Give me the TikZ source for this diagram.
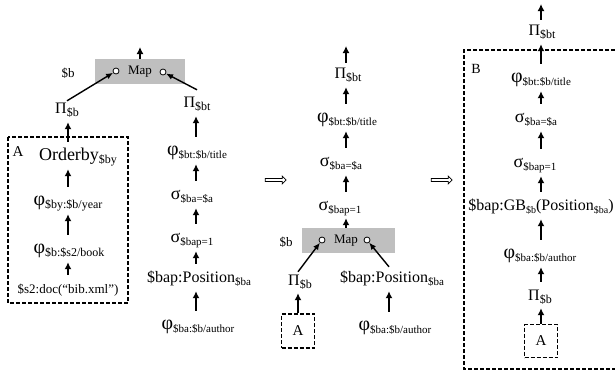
\documentclass[tikz,border=0pt]{standalone}
\usepackage{fontspec}
\setmainfont{Liberation Serif}
\usetikzlibrary{arrows.meta,shapes.arrows}

\newcommand{\idx}[2][12]{\raisebox{-3pt}{\fontsize{#1}{#1}\selectfont #2}}
\newcommand{\gk}[2][18]{{\fontsize{#1}{#1}\selectfont #2}}

\tikzset{
  op/.style={inner sep=1pt, text height=10pt, text depth=4pt, font=\fontsize{16}{18}\selectfont},
  small/.style={inner sep=1pt, font=\fontsize{13}{15}\selectfont},
  up/.style={-{Latex[length=7pt,width=7pt]}, line width=1.7pt, shorten <=7pt, shorten >=4pt},
  feed/.style={-{Latex[length=7pt,width=6pt]}, line width=1.4pt},
  frame/.style={line width=1.1pt, dash pattern=on 4pt off 2pt},
  mapbox/.style={fill=gray!50, inner sep=0pt},
  port/.style={circle, draw, fill=white, line width=0.8pt, inner sep=0pt, minimum size=6pt},
  fatarrow/.style={single arrow, draw, line width=0.7pt, minimum height=21pt, minimum width=8pt, inner sep=0.8pt, single arrow head extend=2pt},
}

\begin{document}
\begin{tikzpicture}[x=1pt, y=-1pt]
\useasboundingbox (0,0) rectangle (615,378);

% columns of the up arrows
\coordinate (ca) at (68,0);
\coordinate (cb) at (196,0);
\coordinate (cm) at (346,0);
\coordinate (cp) at (389,0);
\coordinate (cr) at (541,0);

%%% left plan
% map
\node[mapbox, minimum width=90pt, minimum height=25pt] (boxL) at (140,71.5) {};
\node[small] (mapL) at (140,72) {Map};
\node[small] (varL) at (68,73) {\$b};
\node[port] (inL1) at (116,71) {};
\node[port] (inL2) at (163,72) {};
\coordinate (topL) at (140,47);
\draw[up, shorten <=0pt, shorten >=0pt] (boxL.north) -- (topL);

\node[op] (piB) at (67,110) {Π\idx{\$b}};
\node[op] (piBt) at (197,104) {Π\idx{\$bt}};
\draw[feed] ([yshift=1pt]piB.north) -- (inL1);
\draw[feed] ([yshift=6pt]piBt.north) -- (inL2);

% A
\draw[frame] (8,137) rectangle (128,303);
\node[op, font=\fontsize{15}{17}\selectfont] (labA) at (18,153) {A};
\node[op, font=\fontsize{18}{20}\selectfont] (ordBy) at (78,157) {Orderby\idx{\$by}};
\node[op] (phiBy) at (68,202) {\gk[20]{φ}\idx{\$by:\$b/year}};
\node[op] (phiB) at (69,250) {\gk[20]{φ}\idx{\$b:\$s2/book}};
\node[op, font=\fontsize{13}{15}\selectfont] (docS) at (68,290) {\$s2:doc(“bib.xml”)};
\draw[up] (ordBy.north -| ca) -- (piB.south -| ca);
\draw[up] (phiBy.north -| ca) -- (ordBy.south -| ca);
\draw[up] (phiB.north -| ca) -- (phiBy.south -| ca);
\draw[up] (docS.north -| ca) -- (phiB.south -| ca);

% title branch
\node[op] (phiBt) at (197,152) {\gk[20]{φ}\idx[11]{\$bt:\$b/title}};
\node[op] (sigA) at (192,196) {\gk{σ}\idx[11]{\$ba=\$a}};
\node[op] (sigP) at (192,239) {\gk{σ}\idx[11]{\$bap=1}};
\node[op] (posL) at (199,279) {\$bap:Position\idx[11]{\$ba}};
\node[op] (phiBa) at (198,326) {\gk[20]{φ}\idx[11]{\$ba:\$b/author}};
\draw[up] (phiBt.north -| cb) -- (piBt.south -| cb);
\draw[up] (sigA.north -| cb) -- (phiBt.south -| cb);
\draw[up] (sigP.north -| cb) -- (sigA.south -| cb);
\draw[up] (posL.north -| cb) -- (sigP.south -| cb);
\draw[up] (phiBa.north -| cb) -- (posL.south -| cb);

\node[fatarrow] (goM) at (275,180) {};

%%% middle plan
\coordinate (topM) at (346,46);
\node[op] (piBt2) at (348,75) {Π\idx{\$bt}};
\node[op] (phiBt2) at (347,119) {\gk[20]{φ}\idx[11]{\$bt:\$b/title}};
\node[op] (sigA2) at (341,163) {\gk{σ}\idx[11]{\$ba=\$a}};
\node[op] (sigP2) at (340,207) {\gk{σ}\idx[11]{\$bap=1}};
\draw[up, shorten <=4pt, shorten >=0pt] (piBt2.north -| cm) -- (topM);
\draw[up] (phiBt2.north -| cm) -- (piBt2.south -| cm);
\draw[up] (sigA2.north -| cm) -- (phiBt2.south -| cm);
\draw[up] (sigP2.north -| cm) -- (sigA2.south -| cm);

% map
\node[mapbox, minimum width=93pt, minimum height=25pt] (boxM) at (348.5,240.5) {};
\node[small] (mapM) at (346,241) {Map};
\node[small] (varM) at (286,242) {\$b};
\node[port] (inM1) at (322,240) {};
\node[port] (inM2) at (367,240) {};
\draw[up, shorten <=0pt, shorten >=3pt] (boxM.north -| cm) -- (sigP2.south -| cm);

\node[op] (piB2) at (300,282) {Π\idx{\$b}};
\node[op] (posM) at (392,279) {\$bap:Position\idx[11]{\$ba}};
\node[op] (phiBa2) at (395,327) {\gk[20]{φ}\idx[11]{\$ba:\$b/author}};
\draw[feed] ([yshift=2pt]piB2.north -| 298,0) -- (inM1);
\draw[feed] ([yshift=4pt]posM.north -| cp) -- (inM2);
\node[frame, draw, inner sep=0pt, minimum width=33pt, minimum height=34pt, font=\fontsize{15}{17}\selectfont] (boxA2) at (298,331) {A};
\draw[up, shorten <=0pt, shorten >=3pt] (boxA2.north) -- (piB2.south -| boxA2);
\draw[up] (phiBa2.north -| cp) -- (posM.south -| cp);

\node[fatarrow] (goR) at (441,180) {};

%%% right plan
\coordinate (topR) at (541,4);
\node[op] (piBt3) at (542,32) {Π\idx{\$bt}};
\draw[frame] (615,50) -| (464,369) -- (615,369);
\node[op, font=\fontsize{14}{16}\selectfont] (labB) at (476,70) {B};
\node[op] (phiBt3) at (541,79) {\gk[20]{φ}\idx[11]{\$bt:\$b/title}};
\node[op] (sigA3) at (536,119) {\gk{σ}\idx[11]{\$ba=\$a}};
\node[op] (sigP3) at (535,164) {\gk{σ}\idx[11]{\$bap=1}};
\node[op] (gb) at (541,207) {\$bap:GB\idx[10]{\$b}(Position\idx[10]{\$ba})};
\node[op] (phiBa3) at (540,255) {\gk[20]{φ}\idx[11]{\$ba:\$b/author}};
\node[op] (piB3) at (540,297) {Π\idx{\$b}};
\node[frame, draw, inner sep=0pt, minimum width=33pt, minimum height=33pt, font=\fontsize{15}{17}\selectfont] (boxA3) at (541,341) {A};
\draw[up, shorten <=4pt, shorten >=0pt] (piBt3.north -| cr) -- (topR);
\draw[up] (phiBt3.north -| cr) -- (piBt3.south -| cr);
\draw[up] (sigA3.north -| cr) -- (phiBt3.south -| cr);
\draw[up] (sigP3.north -| cr) -- (sigA3.south -| cr);
\draw[up] (gb.north -| cr) -- (sigP3.south -| cr);
\draw[up] (phiBa3.north -| cr) -- (gb.south -| cr);
\draw[up] (piB3.north -| cr) -- (phiBa3.south -| cr);
\draw[up, shorten <=0pt, shorten >=3pt] (boxA3.north) -- (piB3.south -| cr);

\end{tikzpicture}
\end{document}
